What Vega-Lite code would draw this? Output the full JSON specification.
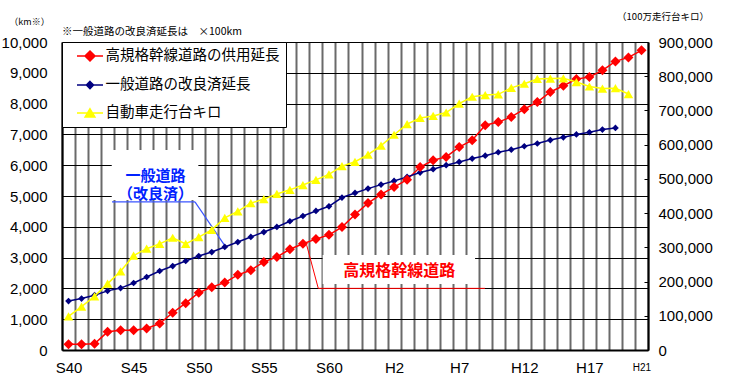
{
  "$schema": "https://vega.github.io/schema/vega-lite/v6.json",
  "width": 586,
  "height": 308,
  "autosize": {"type": "none"},
  "padding": {"left": 62, "top": 42, "right": 89, "bottom": 36},
  "background": "white",
  "config": {
    "view": {"stroke": null},
    "font": "Liberation Sans Narrow, Arial Narrow, Liberation Sans, Noto Sans CJK JP"
  },
  "title": {
    "text": "※一般道路の改良済延長は　×100km",
    "anchor": "start",
    "frame": "group",
    "orient": "top",
    "font": "Noto Sans CJK JP",
    "fontSize": 10.5,
    "fontWeight": "normal",
    "color": "black",
    "offset": 0,
    "dy": 26
  },
  "datasets": {
    "left": [
      {"year": 1965, "series": "高規格幹線道路の供用延長", "value": 190},
      {"year": 1966, "series": "高規格幹線道路の供用延長", "value": 190},
      {"year": 1967, "series": "高規格幹線道路の供用延長", "value": 200},
      {"year": 1968, "series": "高規格幹線道路の供用延長", "value": 590},
      {"year": 1969, "series": "高規格幹線道路の供用延長", "value": 640},
      {"year": 1970, "series": "高規格幹線道路の供用延長", "value": 645},
      {"year": 1971, "series": "高規格幹線道路の供用延長", "value": 700},
      {"year": 1972, "series": "高規格幹線道路の供用延長", "value": 860},
      {"year": 1973, "series": "高規格幹線道路の供用延長", "value": 1210},
      {"year": 1974, "series": "高規格幹線道路の供用延長", "value": 1520},
      {"year": 1975, "series": "高規格幹線道路の供用延長", "value": 1860},
      {"year": 1976, "series": "高規格幹線道路の供用延長", "value": 2040},
      {"year": 1977, "series": "高規格幹線道路の供用延長", "value": 2190},
      {"year": 1978, "series": "高規格幹線道路の供用延長", "value": 2440},
      {"year": 1979, "series": "高規格幹線道路の供用延長", "value": 2590},
      {"year": 1980, "series": "高規格幹線道路の供用延長", "value": 2860},
      {"year": 1981, "series": "高規格幹線道路の供用延長", "value": 3020},
      {"year": 1982, "series": "高規格幹線道路の供用延長", "value": 3270},
      {"year": 1983, "series": "高規格幹線道路の供用延長", "value": 3450},
      {"year": 1984, "series": "高規格幹線道路の供用延長", "value": 3600},
      {"year": 1985, "series": "高規格幹線道路の供用延長", "value": 3740},
      {"year": 1986, "series": "高規格幹線道路の供用延長", "value": 3990},
      {"year": 1987, "series": "高規格幹線道路の供用延長", "value": 4400},
      {"year": 1988, "series": "高規格幹線道路の供用延長", "value": 4770},
      {"year": 1989, "series": "高規格幹線道路の供用延長", "value": 5050},
      {"year": 1990, "series": "高規格幹線道路の供用延長", "value": 5290},
      {"year": 1991, "series": "高規格幹線道路の供用延長", "value": 5530},
      {"year": 1992, "series": "高規格幹線道路の供用延長", "value": 5940},
      {"year": 1993, "series": "高規格幹線道路の供用延長", "value": 6160},
      {"year": 1994, "series": "高規格幹線道路の供用延長", "value": 6270},
      {"year": 1995, "series": "高規格幹線道路の供用延長", "value": 6590},
      {"year": 1996, "series": "高規格幹線道路の供用延長", "value": 6810},
      {"year": 1997, "series": "高規格幹線道路の供用延長", "value": 7300},
      {"year": 1998, "series": "高規格幹線道路の供用延長", "value": 7400},
      {"year": 1999, "series": "高規格幹線道路の供用延長", "value": 7567},
      {"year": 2000, "series": "高規格幹線道路の供用延長", "value": 7820},
      {"year": 2001, "series": "高規格幹線道路の供用延長", "value": 8052},
      {"year": 2002, "series": "高規格幹線道路の供用延長", "value": 8378},
      {"year": 2003, "series": "高規格幹線道路の供用延長", "value": 8580},
      {"year": 2004, "series": "高規格幹線道路の供用延長", "value": 8795},
      {"year": 2005, "series": "高規格幹線道路の供用延長", "value": 8865},
      {"year": 2006, "series": "高規格幹線道路の供用延長", "value": 9080},
      {"year": 2007, "series": "高規格幹線道路の供用延長", "value": 9370},
      {"year": 2008, "series": "高規格幹線道路の供用延長", "value": 9500},
      {"year": 2009, "series": "高規格幹線道路の供用延長", "value": 9731},
      {"year": 1965, "series": "一般道路の改良済延長", "value": 1590},
      {"year": 1966, "series": "一般道路の改良済延長", "value": 1670},
      {"year": 1967, "series": "一般道路の改良済延長", "value": 1780},
      {"year": 1968, "series": "一般道路の改良済延長", "value": 1920},
      {"year": 1969, "series": "一般道路の改良済延長", "value": 2010},
      {"year": 1970, "series": "一般道路の改良済延長", "value": 2175},
      {"year": 1971, "series": "一般道路の改良済延長", "value": 2370},
      {"year": 1972, "series": "一般道路の改良済延長", "value": 2565},
      {"year": 1973, "series": "一般道路の改良済延長", "value": 2725},
      {"year": 1974, "series": "一般道路の改良済延長", "value": 2890},
      {"year": 1975, "series": "一般道路の改良済延長", "value": 3050},
      {"year": 1976, "series": "一般道路の改良済延長", "value": 3180},
      {"year": 1977, "series": "一般道路の改良済延長", "value": 3345},
      {"year": 1978, "series": "一般道路の改良済延長", "value": 3505},
      {"year": 1979, "series": "一般道路の改良済延長", "value": 3670},
      {"year": 1980, "series": "一般道路の改良済延長", "value": 3830},
      {"year": 1981, "series": "一般道路の改良済延長", "value": 3995},
      {"year": 1982, "series": "一般道路の改良済延長", "value": 4180},
      {"year": 1983, "series": "一般道路の改良済延長", "value": 4350},
      {"year": 1984, "series": "一般道路の改良済延長", "value": 4515},
      {"year": 1985, "series": "一般道路の改良済延長", "value": 4665},
      {"year": 1986, "series": "一般道路の改良済延長", "value": 4950},
      {"year": 1987, "series": "一般道路の改良済延長", "value": 5100},
      {"year": 1988, "series": "一般道路の改良済延長", "value": 5240},
      {"year": 1989, "series": "一般道路の改良済延長", "value": 5370},
      {"year": 1990, "series": "一般道路の改良済延長", "value": 5490},
      {"year": 1991, "series": "一般道路の改良済延長", "value": 5620},
      {"year": 1992, "series": "一般道路の改良済延長", "value": 5760},
      {"year": 1993, "series": "一般道路の改良済延長", "value": 5870},
      {"year": 1994, "series": "一般道路の改良済延長", "value": 6000},
      {"year": 1995, "series": "一般道路の改良済延長", "value": 6105},
      {"year": 1996, "series": "一般道路の改良済延長", "value": 6215},
      {"year": 1997, "series": "一般道路の改良済延長", "value": 6310},
      {"year": 1998, "series": "一般道路の改良済延長", "value": 6420},
      {"year": 1999, "series": "一般道路の改良済延長", "value": 6505},
      {"year": 2000, "series": "一般道路の改良済延長", "value": 6615},
      {"year": 2001, "series": "一般道路の改良済延長", "value": 6705},
      {"year": 2002, "series": "一般道路の改良済延長", "value": 6815},
      {"year": 2003, "series": "一般道路の改良済延長", "value": 6905},
      {"year": 2004, "series": "一般道路の改良済延長", "value": 7000},
      {"year": 2005, "series": "一般道路の改良済延長", "value": 7070},
      {"year": 2006, "series": "一般道路の改良済延長", "value": 7157},
      {"year": 2007, "series": "一般道路の改良済延長", "value": 7210}
    ],
    "right": [
      {"year": 1965, "series": "自動車走行台キロ", "value": 98000},
      {"year": 1966, "series": "自動車走行台キロ", "value": 127000},
      {"year": 1967, "series": "自動車走行台キロ", "value": 157000},
      {"year": 1968, "series": "自動車走行台キロ", "value": 194000},
      {"year": 1969, "series": "自動車走行台キロ", "value": 230000},
      {"year": 1970, "series": "自動車走行台キロ", "value": 276000},
      {"year": 1971, "series": "自動車走行台キロ", "value": 296000},
      {"year": 1972, "series": "自動車走行台キロ", "value": 310000},
      {"year": 1973, "series": "自動車走行台キロ", "value": 328000},
      {"year": 1974, "series": "自動車走行台キロ", "value": 310000},
      {"year": 1975, "series": "自動車走行台キロ", "value": 330000},
      {"year": 1976, "series": "自動車走行台キロ", "value": 351000},
      {"year": 1977, "series": "自動車走行台キロ", "value": 386000},
      {"year": 1978, "series": "自動車走行台キロ", "value": 405000},
      {"year": 1979, "series": "自動車走行台キロ", "value": 429000},
      {"year": 1980, "series": "自動車走行台キロ", "value": 441000},
      {"year": 1981, "series": "自動車走行台キロ", "value": 456000},
      {"year": 1982, "series": "自動車走行台キロ", "value": 468000},
      {"year": 1983, "series": "自動車走行台キロ", "value": 482000},
      {"year": 1984, "series": "自動車走行台キロ", "value": 497000},
      {"year": 1985, "series": "自動車走行台キロ", "value": 513000},
      {"year": 1986, "series": "自動車走行台キロ", "value": 537000},
      {"year": 1987, "series": "自動車走行台キロ", "value": 550000},
      {"year": 1988, "series": "自動車走行台キロ", "value": 571000},
      {"year": 1989, "series": "自動車走行台キロ", "value": 597000},
      {"year": 1990, "series": "自動車走行台キロ", "value": 629000},
      {"year": 1991, "series": "自動車走行台キロ", "value": 660000},
      {"year": 1992, "series": "自動車走行台キロ", "value": 678000},
      {"year": 1993, "series": "自動車走行台キロ", "value": 684000},
      {"year": 1994, "series": "自動車走行台キロ", "value": 694000},
      {"year": 1995, "series": "自動車走行台キロ", "value": 720000},
      {"year": 1996, "series": "自動車走行台キロ", "value": 740000},
      {"year": 1997, "series": "自動車走行台キロ", "value": 745000},
      {"year": 1998, "series": "自動車走行台キロ", "value": 747000},
      {"year": 1999, "series": "自動車走行台キロ", "value": 766000},
      {"year": 2000, "series": "自動車走行台キロ", "value": 778000},
      {"year": 2001, "series": "自動車走行台キロ", "value": 792000},
      {"year": 2002, "series": "自動車走行台キロ", "value": 793000},
      {"year": 2003, "series": "自動車走行台キロ", "value": 794000},
      {"year": 2004, "series": "自動車走行台キロ", "value": 783000},
      {"year": 2005, "series": "自動車走行台キロ", "value": 770000},
      {"year": 2006, "series": "自動車走行台キロ", "value": 764000},
      {"year": 2007, "series": "自動車走行台キロ", "value": 765000},
      {"year": 2008, "series": "自動車走行台キロ", "value": 748000}
    ],
    "boxes": [
      {"label": "blue", "x1": 1968.32, "x2": 1974.97, "y1": 4870, "y2": 6490},
      {"label": "red", "x1": 1984.52, "x2": 1996.22, "y1": 2141, "y2": 3081}
    ],
    "callouts": [
      {"label": "blue", "x1": 1968.34, "y1": 4810, "x2": 1974.71, "y2": 4810},
      {"label": "blue", "x1": 1974.71, "y1": 4810, "x2": 1976.95, "y2": 3420},
      {"label": "red", "x1": 1983.29, "y1": 3406, "x2": 1984.18, "y2": 2001},
      {"label": "red", "x1": 1984.18, "y1": 2001, "x2": 1996.98, "y2": 2001}
    ],
    "labels": [
      {"label": "blue", "x": 1971.68, "y": 5650, "text": "一般道路\n（改良済）"},
      {"label": "red", "x": 1990.4, "y": 2572, "text": "高規格幹線道路"}
    ]
  },
  "layer": [
    {
      "layer": [
        {
          "data": {"name": "boxes"},
          "mark": {"type": "rect", "fill": "white", "stroke": null},
          "encoding": {
            "x": {
              "field": "x1", "type": "quantitative",
              "scale": {"domain": [1964.5, 2009.5], "nice": false, "zero": false},
              "axis": {
                "orient": "bottom",
                "title": null,
                "tickCount": 200,
                "values": [1964.5,1965.5,1966.5,1967.5,1968.5,1969.5,1970.5,1971.5,1972.5,1973.5,1974.5,1975.5,1976.5,1977.5,1978.5,1979.5,1980.5,1981.5,1982.5,1983.5,1984.5,1985.5,1986.5,1987.5,1988.5,1989.5,1990.5,1991.5,1992.5,1993.5,1994.5,1995.5,1996.5,1997.5,1998.5,1999.5,2000.5,2001.5,2002.5,2003.5,2004.5,2005.5,2006.5,2007.5,2008.5,2009.5],
                "labelExpr": "indexof([1965,1970,1975,1980,1985,1990,1995,2000,2005,2009], datum.value + 0.5) >= 0 ? ((datum.value + 0.5) < 1989 ? 'S' + (datum.value + 0.5 - 1925) : 'H' + (datum.value + 0.5 - 1988)) : ''",
                "labelOffset": 6.5,
                "labelFlush": false,
                "labelOverlap": false,
                "labelBound": false,
                "labelFontSize": {"condition": {"test": "datum.value == 2008.5", "value": 10}, "value": 15},
                "labelFont": "Liberation Sans Narrow, Arial Narrow, Liberation Sans",
                "labelColor": "black",
                "labelBaseline": "middle",
                "labelPadding": 17,
                "ticks": false,
                "tickSize": 0,
                "grid": true,
                "gridColor": "#6a6a6a",
                "gridWidth": 2,
                "domainColor": "black",
                "domainWidth": 2
              }
            },
            "x2": {"field": "x2"},
            "y": {
              "field": "y1", "type": "quantitative",
              "scale": {"domain": [0, 10000], "nice": false, "zero": true},
              "axis": {
                "orient": "left",
                "tickCount": 50,
                "values": [0,1000,2000,3000,4000,5000,6000,7000,8000,9000,10000],
                "format": ",d",
                "labelOverlap": false,
                "grid": true,
                "gridColor": "black",
                "gridWidth": 1,
                "ticks": false,
                "tickSize": 0,
                "domainColor": "black",
                "domainWidth": 2,
                "labelFont": "Liberation Sans Narrow, Arial Narrow, Liberation Sans",
                "labelFontSize": 15,
                "labelColor": "black",
                "labelPadding": 15,
                "title": "（km※）",
                "titleAngle": 0,
                "titleX": -33,
                "titleY": -21,
                "titleAlign": "center",
                "titleBaseline": "middle",
                "titleFont": "Noto Sans CJK JP",
                "titleFontSize": 9,
                "titleFontWeight": "normal",
                "titleColor": "black"
              }
            },
            "y2": {"field": "y2"}
          }
        },
        {
          "data": {"name": "callouts"},
          "transform": [{"filter": "datum.label == 'blue'"}],
          "mark": {"type": "rule", "color": "#3a55ff", "strokeWidth": 1.2},
          "encoding": {
            "x": {"field": "x1", "type": "quantitative"},
            "x2": {"field": "x2"},
            "y": {"field": "y1", "type": "quantitative"},
            "y2": {"field": "y2"}
          }
        },
        {
          "data": {"name": "callouts"},
          "transform": [{"filter": "datum.label == 'red'"}],
          "mark": {"type": "rule", "color": "#ff0000", "strokeWidth": 1},
          "encoding": {
            "x": {"field": "x1", "type": "quantitative"},
            "x2": {"field": "x2"},
            "y": {"field": "y1", "type": "quantitative"},
            "y2": {"field": "y2"}
          }
        },
        {
          "data": {"name": "labels"},
          "transform": [{"filter": "datum.label == 'blue'"}],
          "mark": {"type": "text", "color": "#0022ff", "font": "Noto Sans CJK JP", "fontSize": 15, "fontWeight": "bold", "align": "center", "baseline": "middle", "lineBreak": "\n", "lineHeight": 18.5},
          "encoding": {
            "x": {"field": "x", "type": "quantitative"},
            "y": {"field": "y", "type": "quantitative"},
            "text": {"field": "text"}
          }
        },
        {
          "data": {"name": "labels"},
          "transform": [{"filter": "datum.label == 'red'"}],
          "mark": {"type": "text", "color": "#ff0000", "font": "Noto Sans CJK JP", "fontSize": 16, "fontWeight": "bold", "align": "center", "baseline": "middle"},
          "encoding": {
            "x": {"field": "x", "type": "quantitative"},
            "y": {"field": "y", "type": "quantitative"},
            "text": {"field": "text"}
          }
        },
        {
          "data": {"name": "left"},
          "mark": {"type": "line", "strokeWidth": 1.5},
          "encoding": {
            "x": {"field": "year", "type": "quantitative"},
            "y": {"field": "value", "type": "quantitative"},
            "color": {
              "field": "series", "type": "nominal",
              "scale": {
                "domain": ["高規格幹線道路の供用延長", "一般道路の改良済延長", "自動車走行台キロ"],
                "range": ["#ff0000", "#000080", "#ffff00"]
              },
              "legend": {
                "title": null,
                "orient": "top-left",
                "offset": 0,
                "padding": 6.5,
                "fillColor": "white",
                "strokeColor": "black",
                "symbolSize": 169,
                "symbolOffset": 14,
                "symbolStrokeWidth": 1.5,
                "labelOffset": 8,
                "labelFont": "Noto Sans CJK JP",
                "labelFontSize": 14.5,
                "labelColor": "black",
                "labelLimit": 400,
                "rowPadding": 12,
                "encode": {
                  "symbols": {
                    "update": {
                      "shape": {"signal": "datum.value === '自動車走行台キロ' ? 'M-2,0L2,0M0,-0.65L0.75,0.6L-0.75,0.6Z' : datum.value === '一般道路の改良済延長' ? 'M-2,0L2,0M0,-0.55L0.55,0L0,0.55L-0.55,0Z' : 'M-2,0L2,0M0,-0.77L0.77,0L0,0.77L-0.77,0Z'"},
                      "fill": {"signal": "scale('color', datum.value)"},
                      "stroke": {"signal": "scale('color', datum.value)"},
                      "strokeWidth": {"value": 1.5},
                      "opacity": {"value": 1},
                      "fillOpacity": {"value": 1},
                      "strokeOpacity": {"value": 1}
                    }
                  }
                }
              }
            }
          }
        },
        {
          "data": {"name": "left"},
          "transform": [{"filter": "datum.series == '一般道路の改良済延長'"}],
          "mark": {"type": "point", "shape": "diamond", "filled": true, "size": 45, "color": "#000080", "opacity": 1},
          "encoding": {
            "x": {"field": "year", "type": "quantitative"},
            "y": {"field": "value", "type": "quantitative"}
          }
        },
        {
          "data": {"name": "left"},
          "transform": [{"filter": "datum.series == '高規格幹線道路の供用延長'"}],
          "mark": {"type": "point", "shape": "diamond", "filled": true, "size": 100, "color": "#ff0000", "opacity": 1},
          "encoding": {
            "x": {"field": "year", "type": "quantitative"},
            "y": {"field": "value", "type": "quantitative"}
          }
        }
      ]
    },
    {
      "data": {"name": "right"},
      "layer": [
        {
          "mark": {"type": "line", "strokeWidth": 1.5},
          "encoding": {
            "x": {"field": "year", "type": "quantitative"},
            "y": {
              "field": "value", "type": "quantitative",
              "scale": {"domain": [0, 900000], "nice": false},
              "axis": {
                "orient": "right",
                "tickCount": 50,
                "values": [0,100000,200000,300000,400000,500000,600000,700000,800000,900000],
                "format": ",d",
                "labelOverlap": false,
                "grid": false,
                "ticks": true,
                "tickSize": -4,
                "tickColor": "black",
                "tickWidth": 1,
                "domainColor": "black",
                "domainWidth": 2,
                "labelFont": "Liberation Sans Narrow, Arial Narrow, Liberation Sans",
                "labelFontSize": 15,
                "labelColor": "black",
                "labelPadding": 14,
                "title": "（100万走行台キロ）",
                "titleAngle": 0,
                "titleX": 14.5,
                "titleY": -26,
                "titleAlign": "center",
                "titleBaseline": "middle",
                "titleFont": "Noto Sans CJK JP",
                "titleFontSize": 9.5,
                "titleFontWeight": "normal",
                "titleColor": "black"
              }
            },
            "color": {"field": "series", "type": "nominal"}
          }
        },
        {
          "mark": {"type": "point", "shape": "triangle-up", "filled": true, "size": 90, "color": "#ffff00", "opacity": 1},
          "encoding": {
            "x": {"field": "year", "type": "quantitative"},
            "y": {"field": "value", "type": "quantitative"}
          }
        }
      ]
    }
  ],
  "resolve": {"scale": {"y": "independent"}}
}
